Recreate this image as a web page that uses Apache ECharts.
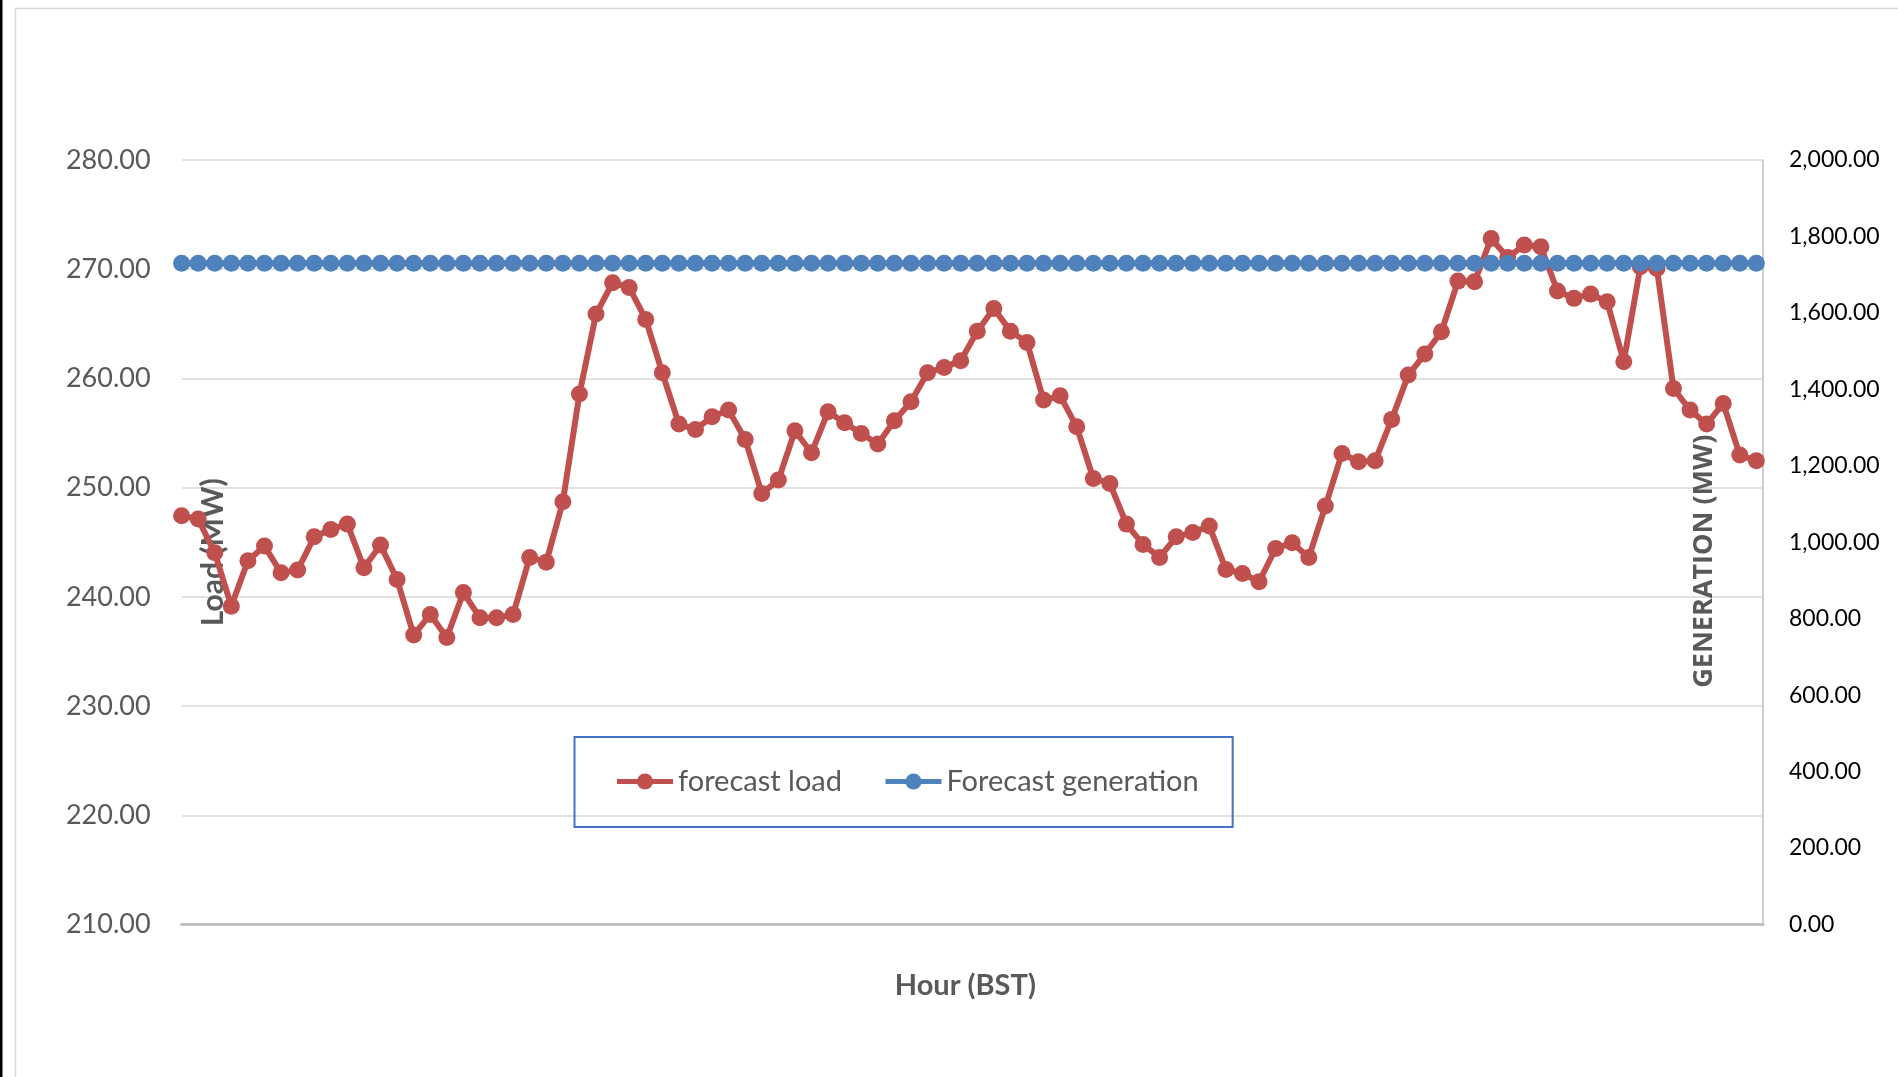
<!DOCTYPE html>
<html>
<head>
<meta charset="utf-8">
<script src="https://cdn.jsdelivr.net/npm/echarts@6/dist/echarts.min.js"></script>
<style>
  html, body { margin: 0; padding: 0; background: #ffffff; }
  #chart { width: 1898px; height: 1077px; }
</style>
</head>
<body>
<div id="chart"></div>
<script>
// Quarter-hour slots of the day (x categories, not labelled in the chart)
const slots = [];
for (let h = 0; h < 24; h++) {
  for (let q = 0; q < 4; q++) {
    slots.push(String(h).padStart(2, '0') + ':' + String(q * 15).padStart(2, '0'));
  }
}

// forecast load (MW), left axis
const forecastLoad = [
  247.42, 247.12, 244.04, 239.15, 243.30, 244.65, 242.20, 242.45, 245.50, 246.17,
  246.66, 242.66, 244.74, 241.59, 236.50, 238.39, 236.28, 240.40, 238.08, 238.08,
  238.39, 243.61, 243.18, 248.71, 258.57, 265.89, 268.76, 268.33, 265.40, 260.52,
  255.82, 255.33, 256.49, 257.10, 254.41, 249.47, 250.69, 255.21, 253.19, 256.95,
  255.94, 254.96, 253.99, 256.12, 257.86, 260.52, 261.01, 261.62, 264.32, 266.41,
  264.33, 263.30, 258.02, 258.41, 255.57, 250.84, 250.38, 246.66, 244.80, 243.61,
  245.50, 245.90, 246.48, 242.51, 242.14, 241.38, 244.43, 244.95, 243.61, 248.31,
  253.13, 252.37, 252.46, 256.25, 260.31, 262.23, 264.27, 268.91, 268.85, 272.82,
  271.08, 272.21, 272.06, 268.00, 267.33, 267.72, 267.02, 261.53, 270.23, 270.07,
  259.08, 257.10, 255.82, 257.71, 252.98, 252.46
];

// Forecast generation (MW), right axis
const forecastGeneration = [
  1730, 1730, 1730, 1730, 1730, 1730, 1730, 1730, 1730, 1730,
  1730, 1730, 1730, 1730, 1730, 1730, 1730, 1730, 1730, 1730,
  1730, 1730, 1730, 1730, 1730, 1730, 1730, 1730, 1730, 1730,
  1730, 1730, 1730, 1730, 1730, 1730, 1730, 1730, 1730, 1730,
  1730, 1730, 1730, 1730, 1730, 1730, 1730, 1730, 1730, 1730,
  1730, 1730, 1730, 1730, 1730, 1730, 1730, 1730, 1730, 1730,
  1730, 1730, 1730, 1730, 1730, 1730, 1730, 1730, 1730, 1730,
  1730, 1730, 1730, 1730, 1730, 1730, 1730, 1730, 1730, 1730,
  1730, 1730, 1730, 1730, 1730, 1730, 1730, 1730, 1730, 1730,
  1730, 1730, 1730, 1730, 1730, 1730
];

// Tick values
const loadTicks = [210, 220, 230, 240, 250, 260, 270, 280];
const genTicks = [0, 200, 400, 600, 800, 1000, 1200, 1400, 1600, 1800, 2000];

const seriesNames = ['forecast load', 'Forecast generation'];
const axisNames = { x: 'Hour (BST)', left: 'Load (MW)', right: 'GENERATION (MW)' };

const RED = '#C0504D';
const BLUE = '#4F81BD';
const FONT = 'Lato';

const chart = echarts.init(document.getElementById('chart'), null, { renderer: 'canvas' });

const option = {
  backgroundColor: '#ffffff',
  animation: false,
  graphic: [
    { type: 'rect', left: 0, top: 0, z: 100, shape: { width: 2.5, height: 1077 }, style: { fill: '#000000' } },
    { type: 'rect', left: 13, top: 6, z: -10, shape: { width: 1900, height: 1100 }, style: { fill: 'none', stroke: '#d9d9d9', lineWidth: 1.5 } }
  ],
  grid: { left: 181.6, right: 135, top: 160, bottom: 152.5, containLabel: false },
  legend: {
    data: seriesNames,
    left: 574.5,
    top: 737,
    orient: 'horizontal',
    padding: [30, 34, 31, 40],
    borderColor: '#4472C4',
    borderWidth: 2,
    itemWidth: 56,
    itemHeight: 20,
    itemGap: 41,
    lineStyle: { width: 5 },
    textStyle: { fontFamily: FONT, fontSize: 29, color: '#595959' }
  },
  xAxis: {
    type: 'value',
    min: 0,
    max: slots.length - 1 + 0.4,
    name: axisNames.x,
    nameLocation: 'middle',
    nameGap: 47,
    nameTextStyle: { fontFamily: FONT, fontSize: 29, fontWeight: 'bold', color: '#595959', padding: [0, 14, 0, 0] },
    axisLine: { show: true, onZero: false, lineStyle: { color: '#bfbfbf', width: 3 } },
    axisTick: { show: false },
    axisLabel: { show: false },
    splitLine: { show: false }
  },
  yAxis: [
    {
      type: 'value',
      position: 'left',
      min: loadTicks[0],
      max: loadTicks[loadTicks.length - 1],
      interval: loadTicks[1] - loadTicks[0],
      name: axisNames.left,
      nameLocation: 'middle',
      nameRotate: 90,
      nameGap: -47,
      nameTextStyle: { fontFamily: FONT, fontSize: 30, fontWeight: 'bold', color: '#595959', padding: [0, 20, 0, 0] },
      axisLine: { show: false },
      axisTick: { show: false },
      axisLabel: {
        margin: 31,
        fontFamily: FONT, fontSize: 27, color: '#595959',
        formatter: v => v.toFixed(2)
      },
      splitLine: { show: true, lineStyle: { color: '#d9d9d9', width: 1.5 } }
    },
    {
      type: 'value',
      position: 'right',
      min: genTicks[0],
      max: genTicks[genTicks.length - 1],
      interval: genTicks[1] - genTicks[0],
      name: axisNames.right,
      nameLocation: 'middle',
      nameRotate: 90,
      nameGap: -72,
      nameTextStyle: { fontFamily: 'Open Sans', fontSize: 27, fontWeight: 'bold', color: '#595959', padding: [0, 38, 0, 0] },
      axisLine: { show: true, lineStyle: { color: '#bfbfbf', width: 1.5 } },
      axisTick: { show: false },
      axisLabel: {
        margin: 26,
        fontFamily: FONT, fontSize: 23, color: '#000000',
        formatter: v => v.toLocaleString('en-US', { minimumFractionDigits: 2, maximumFractionDigits: 2 })
      },
      splitLine: { show: false }
    }
  ],
  series: [
    {
      name: seriesNames[0],
      type: 'line',
      yAxisIndex: 0,
      data: forecastLoad.map((v, i) => ({ name: slots[i], value: [i, v] })),
      symbol: 'circle',
      symbolSize: 17,
      lineStyle: { color: RED, width: 6 },
      itemStyle: { color: RED },
      z: 2
    },
    {
      name: seriesNames[1],
      type: 'line',
      yAxisIndex: 1,
      data: forecastGeneration.map((v, i) => ({ name: slots[i], value: [i, v] })),
      symbol: 'circle',
      symbolSize: 17,
      lineStyle: { color: BLUE, width: 6 },
      itemStyle: { color: BLUE },
      z: 3
    }
  ]
};

chart.setOption(option);
</script>
</body>
</html>
